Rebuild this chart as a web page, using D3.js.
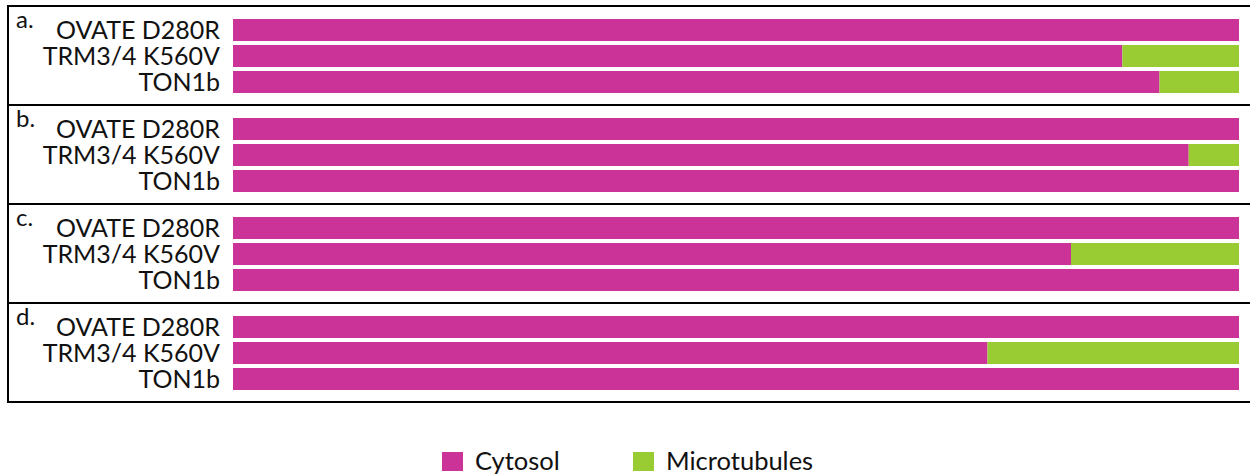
<!DOCTYPE html>
<html>
<head>
<meta charset="utf-8">
<script src="https://cdn.jsdelivr.net/npm/d3@7"></script>
<style>
  html, body { margin: 0; padding: 0; background: #fff; }
  svg { display: block; }
  text { font-family: Lato, "Open Sans", sans-serif; fill: #111; }
</style>
</head>
<body>
<svg id="chart" width="1250" height="474"></svg>
<script>
// Localisation of each construct: percentage of cells with cytosolic vs microtubule signal
const panels = ["a.", "b.", "c.", "d."];
const constructs = ["OVATE D280R", "TRM3/4 K560V", "TON1b"];
const cytosol = [
  [100, 88.4, 92.1],
  [100, 95.0, 100],
  [100, 83.3, 100],
  [100, 75.0, 100]
];
const microtubules = [
  [0, 11.6, 7.9],
  [0, 5.0, 0],
  [0, 16.7, 0],
  [0, 25.0, 0]
];
const seriesNames = ["Cytosol", "Microtubules"];
const seriesColors = ["#CC3399", "#99CC33"];

const svg = d3.select("#chart");
const W = 1250;
const frameLeft = 8, frameTop = 6, panelH = 99;

const x = d3.scaleLinear().domain([0, 100]).range([233, 1239]);
const color = d3.scaleOrdinal().domain(seriesNames).range(seriesColors);

panels.forEach((p, i) => {
  const top = frameTop + i * panelH;
  const y = d3.scaleBand()
    .domain(constructs)
    .range([top + 11, top + 11 + 78])
    .paddingInner(4 / 26)
    .paddingOuter(2 / 26);

  const g = svg.append("g").attr("class", "panel");

  const rows = constructs.map((c, j) => ({
    name: c,
    parts: [
      { key: seriesNames[0], x0: 0, x1: cytosol[i][j] },
      { key: seriesNames[1], x0: cytosol[i][j], x1: cytosol[i][j] + microtubules[i][j] }
    ].filter(d => d.x1 > d.x0)
  }));

  const row = g.selectAll("g.row").data(rows).join("g").attr("class", "row");
  row.selectAll("rect").data(d => d.parts.map(pp => ({ ...pp, name: d.name })))
    .join("rect")
    .attr("x", d => x(d.x0))
    .attr("width", d => x(d.x1) - x(d.x0))
    .attr("y", d => y(d.name))
    .attr("height", y.bandwidth())
    .attr("fill", d => color(d.key));

  row.append("text")
    .attr("x", 220)
    .attr("y", d => y(d.name) + y.bandwidth() / 2 + 8.5)
    .attr("text-anchor", "end")
    .attr("font-size", 25)
    .text(d => d.name);

  g.append("text")
    .attr("x", 16)
    .attr("y", top + 22)
    .attr("font-size", 24)
    .text(p);
});

// frame: horizontal panel separators and left edge
const frame = svg.append("g").attr("stroke", "#000").attr("stroke-width", 2);
d3.range(panels.length + 1).forEach(k => {
  frame.append("line")
    .attr("x1", frameLeft).attr("x2", W)
    .attr("y1", frameTop + k * panelH).attr("y2", frameTop + k * panelH);
});
frame.append("line")
  .attr("x1", frameLeft).attr("x2", frameLeft)
  .attr("y1", frameTop - 1).attr("y2", frameTop + panels.length * panelH + 1);

// legend
const legendX = [442, 633];
const lg = svg.append("g").attr("class", "legend");
seriesNames.forEach((s, k) => {
  lg.append("rect")
    .attr("x", legendX[k]).attr("y", 452)
    .attr("width", 21).attr("height", 19)
    .attr("fill", color(s));
  lg.append("text")
    .attr("x", legendX[k] + 33).attr("y", 470)
    .attr("font-size", 25.5)
    .text(s);
});
</script>
</body>
</html>
